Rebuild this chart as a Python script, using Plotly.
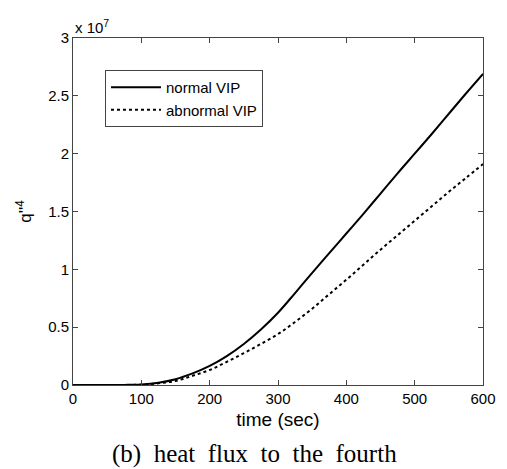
import plotly.graph_objects as go

time_sec = [0, 25, 50, 75, 100, 125, 150, 175, 200, 225, 250, 275, 300, 325, 350,
            375, 400, 425, 450, 475, 500, 525, 550, 575, 600]
normal_vip = [0, 0, 0, 0.001, 0.005, 0.02, 0.05, 0.10, 0.165, 0.25, 0.355, 0.48, 0.625,
              0.795, 0.97, 1.14, 1.31, 1.48, 1.655, 1.83, 2.00, 2.17, 2.345, 2.52, 2.69]
abnormal_vip = [0, 0, 0, 0.0005, 0.003, 0.015, 0.035, 0.08, 0.13, 0.20, 0.275, 0.355, 0.44,
                0.545, 0.66, 0.785, 0.91, 1.04, 1.17, 1.295, 1.42, 1.545, 1.67, 1.79, 1.91]

fig = go.Figure()
fig.add_trace(go.Scatter(x=time_sec, y=normal_vip, mode="lines", name="normal VIP",
                         line=dict(color="black", width=2, dash="solid", shape="spline")))
fig.add_trace(go.Scatter(x=time_sec, y=abnormal_vip, mode="lines", name="abnormal VIP",
                         line=dict(color="black", width=2, dash="dot", shape="spline")))

axis_common = dict(showgrid=False, zeroline=False, showline=True, linecolor="#444",
                   linewidth=1, mirror="allticks", ticks="inside", ticklen=5,
                   tickcolor="#444", automargin=False,
                   tickfont=dict(family="Liberation Sans", size=15, color="black"))

fig.update_layout(
    width=491, height=461,
    margin=dict(l=65, r=16, t=30, b=84),
    paper_bgcolor="white", plot_bgcolor="white",
    font=dict(family="Liberation Sans", color="black"),
    xaxis=dict(range=[0, 600], dtick=100, tick0=0,
               title=dict(text="time (sec)", font=dict(size=19), standoff=6), **axis_common),
    yaxis=dict(range=[0, 3], dtick=0.5, tick0=0, tickformat="~g",
               title=dict(text="q''<sup>4</sup>", font=dict(size=17), standoff=12), **axis_common),
    legend=dict(x=0.078, y=0.908, xanchor="left", yanchor="top",
                bordercolor="#444", borderwidth=1, bgcolor="white",
                font=dict(size=15), tracegroupgap=0, itemwidth=50),
    showlegend=True,
)

fig.add_annotation(text="x 10<sup>7</sup>", xref="paper", yref="paper", x=0.0, y=1.0,
                   xanchor="left", yanchor="bottom", showarrow=False,
                   font=dict(family="Liberation Sans", size=15, color="black"), yshift=0)

gap = "&nbsp;&nbsp;"
fig.add_annotation(text=gap.join(["(b)", "heat", "flux", "to", "the", "fourth"]),
                   xref="paper", yref="paper", x=0.443, y=-0.2, xanchor="center", yanchor="middle",
                   showarrow=False, font=dict(family="Liberation Serif", size=25, color="black"))

fig.write_html("out.html")
